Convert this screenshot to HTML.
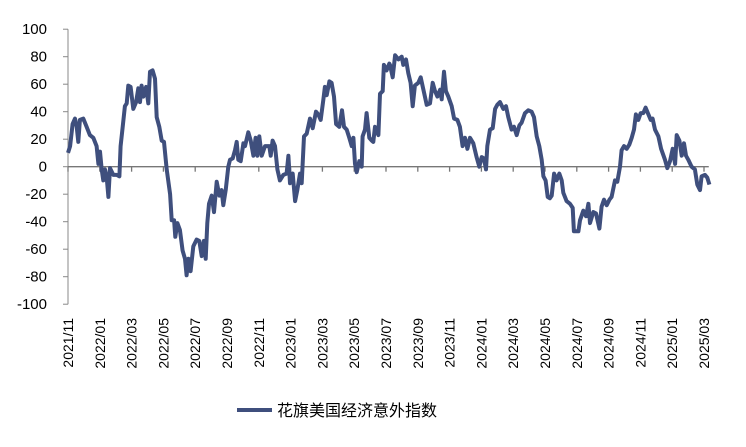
<!DOCTYPE html>
<html><head><meta charset="utf-8"><style>
body{margin:0;background:#fff;}
svg{display:block;font-family:"Liberation Sans","Noto Sans CJK SC",sans-serif;}
</style></head><body>
<svg id="chart" width="746" height="447"></svg>
<script>
const tickLabels=["2021/11","2022/01","2022/03","2022/05","2022/07","2022/09","2022/11","2023/01","2023/03","2023/05","2023/07","2023/09","2023/11","2024/01","2024/03","2024/05","2024/07","2024/09","2024/11","2025/01","2025/03"];
const yTicks=[100,80,60,40,20,0,-20,-40,-60,-80,-100];
const months=[0,.13,.29,.44,.55,.65,.75,.96,1.17,1.38,1.59,1.80,1.91,2.01,2.12,2.22,2.33,2.43,2.54,2.64,2.85,3.06,3.23,3.31,3.44,3.58,3.69,3.79,3.94,4.11,4.28,4.42,4.53,4.63,4.74,4.91,5.05,5.16,5.32,5.47,5.58,5.74,5.89,6.04,6.21,6.42,6.52,6.67,6.75,6.88,7.04,7.21,7.36,7.46,7.57,7.71,7.88,8.09,8.26,8.41,8.55,8.66,8.76,8.87,9.04,9.18,9.35,9.52,9.66,9.77,9.92,10.08,10.19,10.36,10.50,10.61,10.71,10.86,11.03,11.13,11.34,11.49,11.66,11.80,11.91,12.03,12.18,12.39,12.66,12.75,12.87,13.02,13.17,13.33,13.54,13.75,13.86,13.96,14.13,14.28,14.42,14.59,14.70,14.84,15.01,15.22,15.39,15.60,15.74,15.89,16.06,16.16,16.27,16.44,16.58,16.73,16.86,17.06,17.23,17.36,17.53,17.69,17.84,17.95,18.05,18.16,18.32,18.47,18.53,18.68,18.78,18.95,19.10,19.20,19.31,19.52,19.62,19.79,19.87,20.04,20.21,20.25,20.42,20.57,20.78,20.99,21.09,21.26,21.40,21.55,21.68,21.82,22.03,22.18,22.35,22.56,22.77,22.94,23.08,23.23,23.40,23.50,23.65,23.77,23.92,24.13,24.28,24.49,24.65,24.82,24.97,25.12,25.28,25.49,25.70,25.87,26.02,26.16,26.29,26.37,26.54,26.71,26.86,27.00,27.17,27.38,27.55,27.69,27.90,28.05,28.22,28.39,28.53,28.74,28.95,29.16,29.31,29.48,29.64,29.79,29.90,30.04,30.17,30.31,30.42,30.57,30.73,30.90,31.05,31.15,31.36,31.57,31.74,31.82,32.10,32.20,32.41,32.58,32.73,32.83,33.04,33.21,33.42,33.56,33.71,33.88,34.05,34.19,34.40,34.55,34.72,34.82,34.97,35.14,35.30,35.45,35.60,35.72,35.87,36.02,36.18,36.33,36.50,36.65,36.77,36.92,37.13,37.30,37.55,37.69,37.86,38.03,38.18,38.28,38.45,38.60,38.74,38.87,39.01,39.22,39.43,39.58,39.75,39.85,40.06,40.21,40.34];
const values=[10,15,31,35,29,18,34,35,29,23,21,15,2,11,-2,-10,-2,-7,-22,-1,-6,-6,-7,15,29,44,46,59,58,42,47,57,47,59,51,58,46,69,70,64,36,29,19,18,-2,-20,-39,-39,-51,-41,-46,-61,-67,-79,-67,-76,-58,-53,-54,-65,-54,-67,-41,-27,-21,-33,-11,-21,-17,-28,-17,0,5,6,12,18,5,4,17,15,25,19,8,21,8,22,8,15,15,8,19,15,-2,-10,-6,-5,8,-12,-5,-25,-17,-5,-12,22,24,35,28,40,38,34,49,58,52,62,61,51,31,29,41,29,27,21,15,21,2,-4,4,0,22,27,39,21,19,18,29,23,53,55,74,70,75,74,65,81,78,80,74,78,68,61,44,59,61,65,56,45,46,61,55,51,56,49,69,55,51,44,35,34,29,15,21,13,21,17,7,0,7,6,-2,15,27,28,42,45,47,42,44,36,27,29,23,30,32,39,41,40,36,22,15,5,-7,-10,-22,-23,-21,-5,-10,-5,-10,-19,-25,-27,-30,-47,-47,-39,-32,-36,-27,-41,-33,-34,-45,-29,-24,-28,-24,-22,-10,-11,0,12,15,13,16,21,27,38,34,39,39,43,38,34,35,27,22,13,5,-1,4,13,2,23,19,8,17,8,5,0,-2,-13,-17,-7,-6,-8,-13];

const NS="http://www.w3.org/2000/svg";
const svg=document.getElementById('chart');
const X0=68,PXM=15.9,Y0=166.7,PXV=1.375;
const xs=m=>X0+m*PXM;
const ys=v=>Y0-v*PXV;
function mk(tag,attrs,parent){const e=document.createElementNS(NS,tag);for(const k in attrs)e.setAttribute(k,attrs[k]);(parent||svg).appendChild(e);return e;}

const ya=mk('line',{x1:X0,y1:ys(100),x2:X0,y2:ys(-100),stroke:'#888','stroke-width':1});


yTicks.forEach(v=>{
  const t=mk('line',{x1:X0-5,y1:ys(v),x2:X0,y2:ys(v),stroke:'#888','stroke-width':1});
  
  
  const l=mk('text',{x:47,y:ys(v)+5,'text-anchor':'end','font-size':15,fill:'#000'});
  
  
  l.textContent=v;
});
const xa=mk('line',{x1:X0,y1:Y0,x2:xs(40.3),y2:Y0,stroke:'#777','stroke-width':1.3});


tickLabels.forEach((s,i)=>{
  const x=xs(i*2);
  const t=mk('line',{x1:x,y1:Y0,x2:x,y2:Y0+5,stroke:'#777','stroke-width':1.3});
  
  
  const l=mk('text',{x:0,y:0,'text-anchor':'end','font-size':14,fill:'#000',transform:`translate(${x+5},318) rotate(-90)`});
  
  
  l.textContent=s;
});
const d=months.map((m,i)=>(i?'L':'M')+xs(m).toFixed(1)+','+ys(values[i]).toFixed(1)).join('');
const p=mk('path',{d:d,fill:'none',stroke:'#3f4f7d','stroke-width':4,'stroke-linejoin':'round'});


const lg=mk('g',{});


mk('line',{x1:237,y1:410,x2:272,y2:410,stroke:'#3f4f7d','stroke-width':4},lg);
const lt=mk('text',{x:277,y:416,'font-size':16,fill:'#000'},lg);


lt.textContent='花旗美国经济意外指数';
</script>
</body></html>
